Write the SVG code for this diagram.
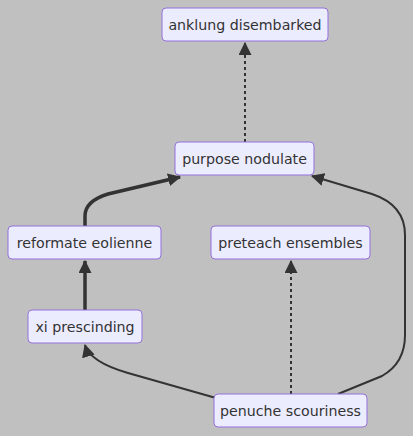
<svg xmlns="http://www.w3.org/2000/svg" width="413" height="436" viewBox="0 0 413 436">
<style>
.node rect{fill:#ECECFF;stroke:#9370DB;stroke-width:1}
.node text{font-family:"DejaVu Sans",Verdana,sans-serif;font-size:14.2px;fill:#333;text-anchor:middle;dominant-baseline:central}
.e{fill:none;stroke:#333;stroke-width:2}
.thick{stroke-width:3.5}
.dot{stroke-dasharray:3 3}
</style>
<defs>
<marker id="a" viewBox="0 0 12 12" refX="11" refY="6" markerWidth="13" markerHeight="13" markerUnits="userSpaceOnUse" orient="auto">
<path d="M0,0 L12,6 L0,12 z" fill="#333"/>
</marker>
</defs>
<rect width="413" height="436" fill="#C0C0C0"/>
<g id="edges">
<path class="e dot" d="M245,142 L245,43" marker-end="url(#a)"/>
<path class="e thick" d="M85,226 L85,216 Q85,201 108,194 L180,177" marker-end="url(#a)"/>
<path class="e thick" d="M85,310 L85,261" marker-end="url(#a)"/>
<path class="e" d="M216,398 L128,373 Q90,362 85,345" marker-end="url(#a)"/>
<path class="e dot" d="M291,394 L291,261" marker-end="url(#a)"/>
<path class="e" d="M338,394 L382,376 Q405,363 405,335 L405,235 Q405,205 372,194 L312,176" marker-end="url(#a)"/>
</g>
<g id="n1" class="node"><rect x="162" y="8" width="166" height="33" rx="4"/><text x="245" y="24.5">anklung disembarked</text></g>
<g id="n2" class="node"><rect x="175" y="142" width="139" height="33" rx="4"/><text x="244.5" y="158.5">purpose nodulate</text></g>
<g id="n3" class="node"><rect x="8" y="226" width="153" height="33" rx="4"/><text x="84.5" y="242.5">reformate eolienne</text></g>
<g id="n4" class="node"><rect x="211" y="226" width="159" height="33" rx="4"/><text x="290.5" y="242.5">preteach ensembles</text></g>
<g id="n5" class="node"><rect x="28" y="310" width="114" height="33" rx="4"/><text x="85" y="326.5">xi prescinding</text></g>
<g id="n6" class="node"><rect x="214" y="394" width="153" height="33" rx="4"/><text x="290.5" y="410.5">penuche scouriness</text></g>
</svg>
